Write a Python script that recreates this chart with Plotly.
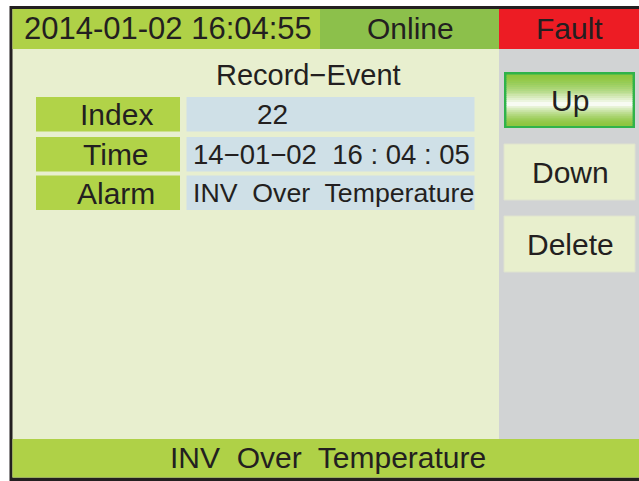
import plotly.graph_objects as go

# ---- content (data) ----
header_time = "2014-01-02 16:04:55"
header_status = "Online"
header_alarm = "Fault"
page_title = "Record\u2212Event"
field_labels = ["Index", "Time", "Alarm"]
field_values = ["22", "14\u221201\u221202  16 : 04 : 05", "INV  Over  Temperature"]
buttons = ["Up", "Down", "Delete"]
status_bar = "INV  Over  Temperature"

W, H = 639, 481
FONT = "Liberation Sans, Arial, sans-serif"
TXT = "#231f20"

shapes = []
ann = []

def rect(x0, y0, x1, y1, fill, line=None, lw=0):
    shapes.append(dict(type="rect", xref="x", yref="y", x0=x0, y0=y0, x1=x1, y1=y1,
                       fillcolor=fill, line=dict(width=lw, color=line or fill), layer="below"))

def text(x, y, s, size=30, anchor="center"):
    ann.append(dict(x=x, y=y, xref="x", yref="y", text=s, showarrow=False,
                    xanchor=anchor, yanchor="middle",
                    font=dict(family=FONT, size=size, color=TXT)))

# frame
rect(9.5, 6, 660, 481, "#231f20")
# content background
rect(12.5, 9, 660, 477.5, "#e8efcf")
# right gray panel
rect(499, 49, 660, 439, "#d1d3d4")
# header
rect(12.5, 9, 320, 49, "#afd147")
rect(320, 9, 499, 49, "#8cc04b")
rect(499, 9, 660, 49, "#ed1c24")
# status bar
rect(12.5, 439, 660, 477.5, "#afd147")

text(168, 28, header_time, 31)
text(410, 28, header_status, 30)
text(569, 28, header_alarm, 30)
text(308, 75, page_title, 29)

# field rows
row_tops = [97, 137, 175.5]
row_h = 34.5
for i, (lab, val) in enumerate(zip(field_labels, field_values)):
    y0 = row_tops[i]
    y1 = y0 + row_h
    rect(36, y0, 180, y1, "#b1d348")
    rect(186.5, y0, 474.5, y1, "#cfe0e7")
    yc = (y0 + y1) / 2 + 0.5
    text(116, yc, lab, 30)
    if i == 0:
        text(272, yc, val, 28)
    elif i == 1:
        text(191, yc, val, 27.5, anchor="left")
    else:
        text(191, yc, val, 26.7, anchor="left")

# buttons
btn_tops = [72, 144, 216]
btn_h = 56
for i, b in enumerate(buttons):
    y0 = btn_tops[i]
    y1 = y0 + btn_h
    if i == 0:
        rect(504, y0, 635, y1, "#2fb34a")
        # vertical gradient green -> white -> green
        n = 26
        iy0, iy1 = y0 + 2.5, y1 - 2.5
        g = (141, 198, 63)
        for k in range(n):
            t = (k + 0.5) / n
            c = 0.58
            f = 1 - abs(t - c) / (c if t < c else (1 - c))
            f = max(0.0, min(1.0, f)) ** 1.6
            col = tuple(int(g[j] + (255 - g[j]) * f) for j in range(3))
            ya = iy0 + (iy1 - iy0) * k / n
            yb = iy0 + (iy1 - iy0) * (k + 1) / n + 0.5
            rect(506.5, ya, 632.5, yb, "rgb(%d,%d,%d)" % col)
    else:
        rect(504, y0, 635, y1, "#e8efcd", "#dfe3cf", 1)
    text(570, y0 + btn_h / 2, b, 30)

text(328, 457.5, status_bar, 30)

fig = go.Figure()
fig.update_layout(
    width=W, height=H,
    margin=dict(l=0, r=0, t=0, b=0),
    paper_bgcolor="white", plot_bgcolor="white",
    xaxis=dict(range=[0, W], visible=False, fixedrange=True),
    yaxis=dict(range=[H, 0], visible=False, fixedrange=True),
    shapes=shapes, annotations=ann, showlegend=False,
)
fig.write_html("out.html", config={"displayModeBar": False},
               post_script="document.body.style.margin='0';document.body.style.overflow='hidden';")
